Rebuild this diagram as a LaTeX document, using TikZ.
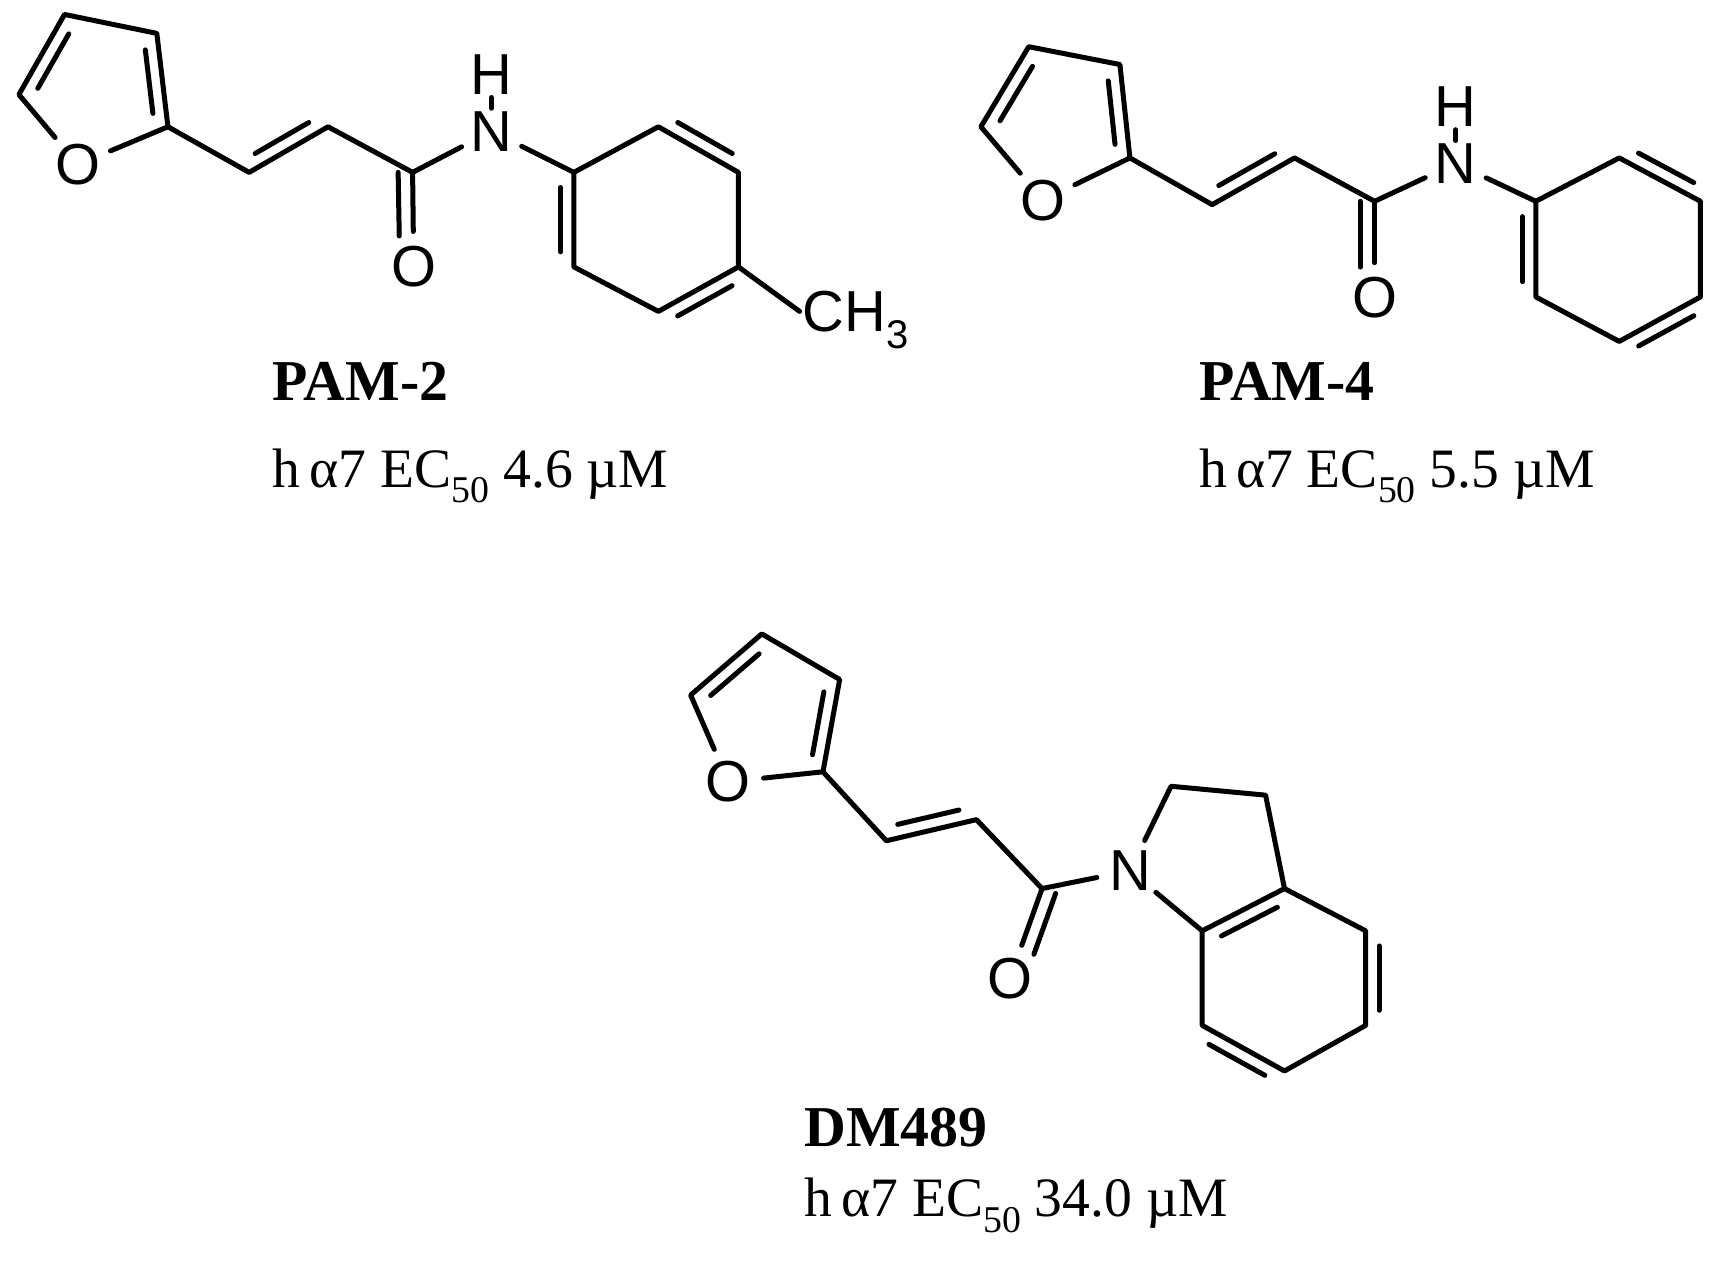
\documentclass[tikz,border=0pt]{standalone}
\usepackage{fontspec}
\setmainfont{Liberation Serif}
\newfontfamily\atomfont{Liberation Sans}
\usetikzlibrary{calc}
\tikzset{
  bond/.style={line width=4.5pt, line cap=round, line join=round},
  atom/.style={circle, inner sep=3pt, font=\atomfont\fontsize{52}{52}\selectfont},
  title/.style={anchor=base west, inner sep=0pt, font=\bfseries\fontsize{52}{52}\selectfont},
  info/.style={anchor=base west, inner sep=0pt, font=\fontsize{50}{50}\selectfont}
}
\newcommand{\inner}[3]{\draw[bond] ($($(#1)!0.16!(#2)$)!12pt!#3:(#2)$) -- ($($(#2)!0.16!(#1)$)!12pt!-#3:(#1)$);}
\newcommand{\EC}[1]{h\,α7 EC\raisebox{-0.28em}{\fontsize{34}{34}\selectfont 50} #1 µM}
\begin{document}
\begin{tikzpicture}[x=1pt,y=-1pt]
\useasboundingbox (0,0) rectangle (1552,1134);
% ---------- PAM-2 ----------
\coordinate (a3) at (58,13); \coordinate (a4) at (141,30); \coordinate (a2) at (151,114);
\node[atom] (aO) at (70,148) {O}; \coordinate (a5) at (17,85);
\coordinate (av1) at (224,155); \coordinate (av2) at (295,114); \coordinate (ac) at (371,155);
\node[atom] (aN) at (442,118) {N}; \node[atom] (aH) at (442,67) {H};
\node[atom] (aO2) at (372,240) {O};
\coordinate (p1) at (516,155); \coordinate (p2) at (592,114); \coordinate (p3) at (664,155);
\coordinate (p4) at (664,240); \coordinate (p5) at (592,280); \coordinate (p6) at (516,240);
\node[atom, anchor=west, inner sep=0pt] (aMe) at (715,288) {CH\raisebox{-0.3em}{\fontsize{36}{36}\selectfont 3}};
\draw[bond] (aO) -- (a5) -- (a3) -- (a4) -- (a2) -- (aO);
\inner{a5}{a3}{-90} \inner{a4}{a2}{-90}
\draw[bond] (a2) -- (av1) -- (av2) -- (ac) -- (aN);
\inner{av1}{av2}{90}
\draw[bond] (ac) -- (aO2);
\draw[bond] ($(ac)+(-13,0)$) -- ($(aO2.north)+(-13,4)$);
\draw[bond] (aN) -- (aH);
\draw[bond] (aN) -- (p1);
\draw[bond] (p1) -- (p2) -- (p3) -- (p4) -- (p5) -- (p6) -- cycle;
\inner{p2}{p3}{90} \inner{p4}{p5}{90} \inner{p6}{p1}{90}
\draw[bond] (p4) -- ($(aMe.west)+(4,-8)$);
\node[title] (t1) at (245,360) {PAM-2};
\node[info] (i1) at (245,438) {\EC{4.6}};
% ---------- PAM-4 ----------
\coordinate (b3) at (925,42); \coordinate (b4) at (1007,58); \coordinate (b2) at (1016,142);
\node[atom] (bO) at (938,180) {O}; \coordinate (b5) at (882,114);
\coordinate (bv1) at (1090,184); \coordinate (bv2) at (1164,142); \coordinate (bc) at (1236,181);
\node[atom] (bN) at (1309,147) {N}; \node[atom] (bH) at (1309,96) {H};
\node[atom] (bO2) at (1236,268) {O};
\coordinate (q1) at (1381,181); \coordinate (q2) at (1456,142); \coordinate (q3) at (1529,181);
\coordinate (q4) at (1529,267); \coordinate (q5) at (1456,307); \coordinate (q6) at (1381,267);
\draw[bond] (bO) -- (b5) -- (b3) -- (b4) -- (b2) -- (bO);
\inner{b5}{b3}{-90} \inner{b4}{b2}{-90}
\draw[bond] (b2) -- (bv1) -- (bv2) -- (bc) -- (bN);
\inner{bv1}{bv2}{90}
\draw[bond] (bc) -- (bO2);
\draw[bond] ($(bc)+(-13,0)$) -- ($(bO2.north)+(-13,4)$);
\draw[bond] (bN) -- (bH);
\draw[bond] (bN) -- (q1);
\draw[bond] (q1) -- (q2) -- (q3) -- (q4) -- (q5) -- (q6) -- cycle;
\inner{q2}{q3}{90} \inner{q4}{q5}{90} \inner{q6}{q1}{90}
\node[title] (t2) at (1078,360) {PAM-4};
\node[info] (i2) at (1078,438) {\EC{5.5}};
% ---------- DM489 ----------
\coordinate (c3) at (685,570); \coordinate (c4) at (755,611); \coordinate (c2) at (740,694);
\node[atom] (cO) at (655,703) {O}; \coordinate (c5) at (621,625);
\coordinate (cv1) at (797,756); \coordinate (cv2) at (878,737); \coordinate (cc) at (937,799);
\node[atom] (cN) at (1016,783) {N};
\node[atom] (cO2) at (908,880) {O};
\coordinate (m2) at (1053,707); \coordinate (m3) at (1138,715);
\coordinate (r1) at (1155,799); \coordinate (r2) at (1228,837); \coordinate (r3) at (1228,922);
\coordinate (r4) at (1155,963); \coordinate (r5) at (1081,922); \coordinate (r6) at (1081,837);
\draw[bond] (cO) -- (c5) -- (c3) -- (c4) -- (c2) -- (cO);
\inner{c5}{c3}{-90} \inner{c4}{c2}{-90}
\draw[bond] (c2) -- (cv1) -- (cv2) -- (cc) -- (cN);
\inner{cv1}{cv2}{90}
\draw[bond] (cc) -- (cO2);
\draw[bond] ($(cc)!13pt!90:(cO2)$) -- ($(cO2)!28pt!(cc)!13pt!-90:(cc)$);
\draw[bond] (cN) -- (m2) -- (m3) -- (r1);
\draw[bond] (cN) -- (r6);
\draw[bond] (r1) -- (r2) -- (r3) -- (r4) -- (r5) -- (r6) -- cycle;
\inner{r1}{r6}{90} \inner{r2}{r3}{90} \inner{r4}{r5}{90}
\node[title] (t3) at (723,1031) {DM489};
\node[info] (i3) at (723,1094) {\EC{34.0}};
\end{tikzpicture}
\end{document}
